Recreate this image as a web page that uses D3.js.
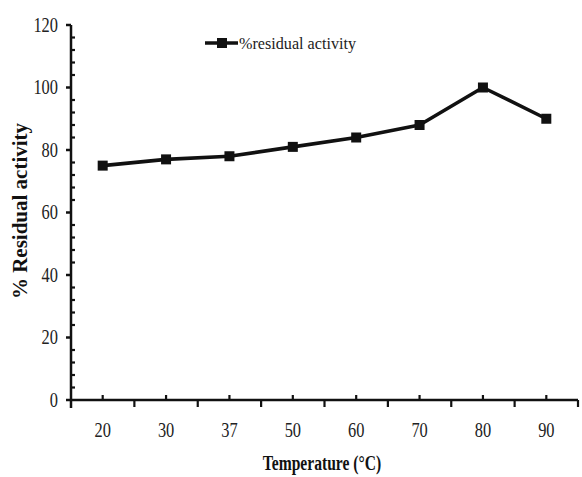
<!DOCTYPE html>
<html>
<head>
<meta charset="utf-8">
<script src="https://cdn.jsdelivr.net/npm/d3@7"></script>
<style>
  html, body { margin: 0; padding: 0; background: #fff; }
  svg { display: block; }
  .tick-label { font-family: "Liberation Serif", "Times New Roman", serif; font-size: 20px; fill: #222; }
</style>
</head>
<body>
<svg id="chart" width="582" height="477"></svg>
<script>
// Temperature categories (°C) and residual activity (%)
const temperatures = ["20", "30", "37", "50", "60", "70", "80", "90"];
const residualActivity = [75, 77, 78, 81, 84, 88, 100, 90];
const yTickValues = [0, 20, 40, 60, 80, 100, 120];
const yMinorStep = 4;
const seriesName = "%residual activity";
const xTitle = "Temperature (°C)";
const yTitle = "% Residual activity";

(function drawChart() {
  const svg = d3.select("#chart");
  const plotLeft = 71, plotRight = 578, plotTop = 25, plotBottom = 400;

  const x = d3.scaleBand().domain(temperatures).range([plotLeft, plotRight]).padding(0);
  const y = d3.scaleLinear().domain([0, 120]).range([plotBottom, plotTop]);

  const ink = "#111";

  // Y axis line (extends a little below the x axis)
  svg.append("line").attr("x1", plotLeft).attr("x2", plotLeft)
    .attr("y1", y(120)).attr("y2", plotBottom + 8)
    .attr("stroke", ink).attr("stroke-width", 2.5);

  // Y minor ticks (inside)
  d3.range(0, 121, yMinorStep).filter(v => v % 20 !== 0).forEach(v => {
    svg.append("line").attr("x1", plotLeft).attr("x2", plotLeft + 4)
      .attr("y1", y(v)).attr("y2", y(v))
      .attr("stroke", ink).attr("stroke-width", 2.2);
  });
  // Y major ticks (outside) and labels
  yTickValues.forEach(v => {
    svg.append("line").attr("x1", plotLeft - 5).attr("x2", plotLeft)
      .attr("y1", y(v)).attr("y2", y(v))
      .attr("stroke", ink).attr("stroke-width", 2.5);
    svg.append("text").attr("class", "tick-label")
      .attr("x", 0).attr("y", 0)
      .attr("text-anchor", "end")
      .attr("dominant-baseline", "central")
      .attr("transform", `translate(${plotLeft - 13},${y(v)}) scale(0.82,1)`)
      .text(v);
  });

  // X axis line
  svg.append("line").attr("x1", plotLeft).attr("x2", plotRight)
    .attr("y1", plotBottom).attr("y2", plotBottom)
    .attr("stroke", ink).attr("stroke-width", 2.5);

  // X ticks: up at category centres, down at category boundaries
  temperatures.forEach(t => {
    const cx = x(t) + x.bandwidth() / 2;
    svg.append("line").attr("x1", cx).attr("x2", cx)
      .attr("y1", plotBottom - 5).attr("y2", plotBottom)
      .attr("stroke", ink).attr("stroke-width", 2.2);
    const bx = x(t) + x.bandwidth();
    svg.append("line").attr("x1", bx).attr("x2", bx)
      .attr("y1", plotBottom).attr("y2", plotBottom + 7)
      .attr("stroke", ink).attr("stroke-width", 2.2);
    svg.append("text").attr("class", "tick-label")
      .attr("x", 0).attr("y", 0)
      .attr("text-anchor", "middle")
      .attr("dominant-baseline", "central")
      .attr("transform", `translate(${cx},${plotBottom + 30}) scale(0.82,1)`)
      .text(t);
  });

  // Data line and square markers
  const pts = temperatures.map((t, i) => [x(t) + x.bandwidth() / 2, y(residualActivity[i])]);
  svg.append("path")
    .attr("d", d3.line()(pts))
    .attr("fill", "none").attr("stroke", ink)
    .attr("stroke-width", 3.6).attr("stroke-linejoin", "round");
  svg.selectAll("rect.marker").data(pts).join("rect")
    .attr("class", "marker")
    .attr("x", d => d[0] - 5).attr("y", d => d[1] - 5)
    .attr("width", 10).attr("height", 10)
    .attr("fill", ink);

  // Legend
  const lgY = 43;
  svg.append("line").attr("x1", 205).attr("x2", 238)
    .attr("y1", lgY).attr("y2", lgY)
    .attr("stroke", ink).attr("stroke-width", 3.6);
  svg.append("rect").attr("x", 217).attr("y", lgY - 5)
    .attr("width", 10).attr("height", 10).attr("fill", ink);
  svg.append("text")
    .attr("x", 0).attr("y", 0)
    .attr("dominant-baseline", "central")
    .attr("transform", `translate(239,${lgY}) scale(0.95,1)`)
    .style("font-family", "'Liberation Serif', serif")
    .style("font-size", "17px").style("fill", "#222")
    .text(seriesName);

  // Axis titles
  svg.append("text")
    .attr("x", 0).attr("y", 0)
    .attr("text-anchor", "middle")
    .attr("dominant-baseline", "central")
    .attr("transform", `translate(322,463) scale(0.78,1)`)
    .style("font-family", "'Liberation Serif', serif")
    .style("font-weight", "bold")
    .style("font-size", "20px").style("fill", "#111")
    .text(xTitle);

  svg.append("text")
    .attr("x", 0).attr("y", 0)
    .attr("text-anchor", "middle")
    .attr("dominant-baseline", "central")
    .attr("transform", `translate(20,211) rotate(-90)`)
    .style("font-family", "'Liberation Serif', serif")
    .style("font-weight", "bold")
    .style("font-size", "21px").style("fill", "#111")
    .text(yTitle);
})();
</script>
</body>
</html>
